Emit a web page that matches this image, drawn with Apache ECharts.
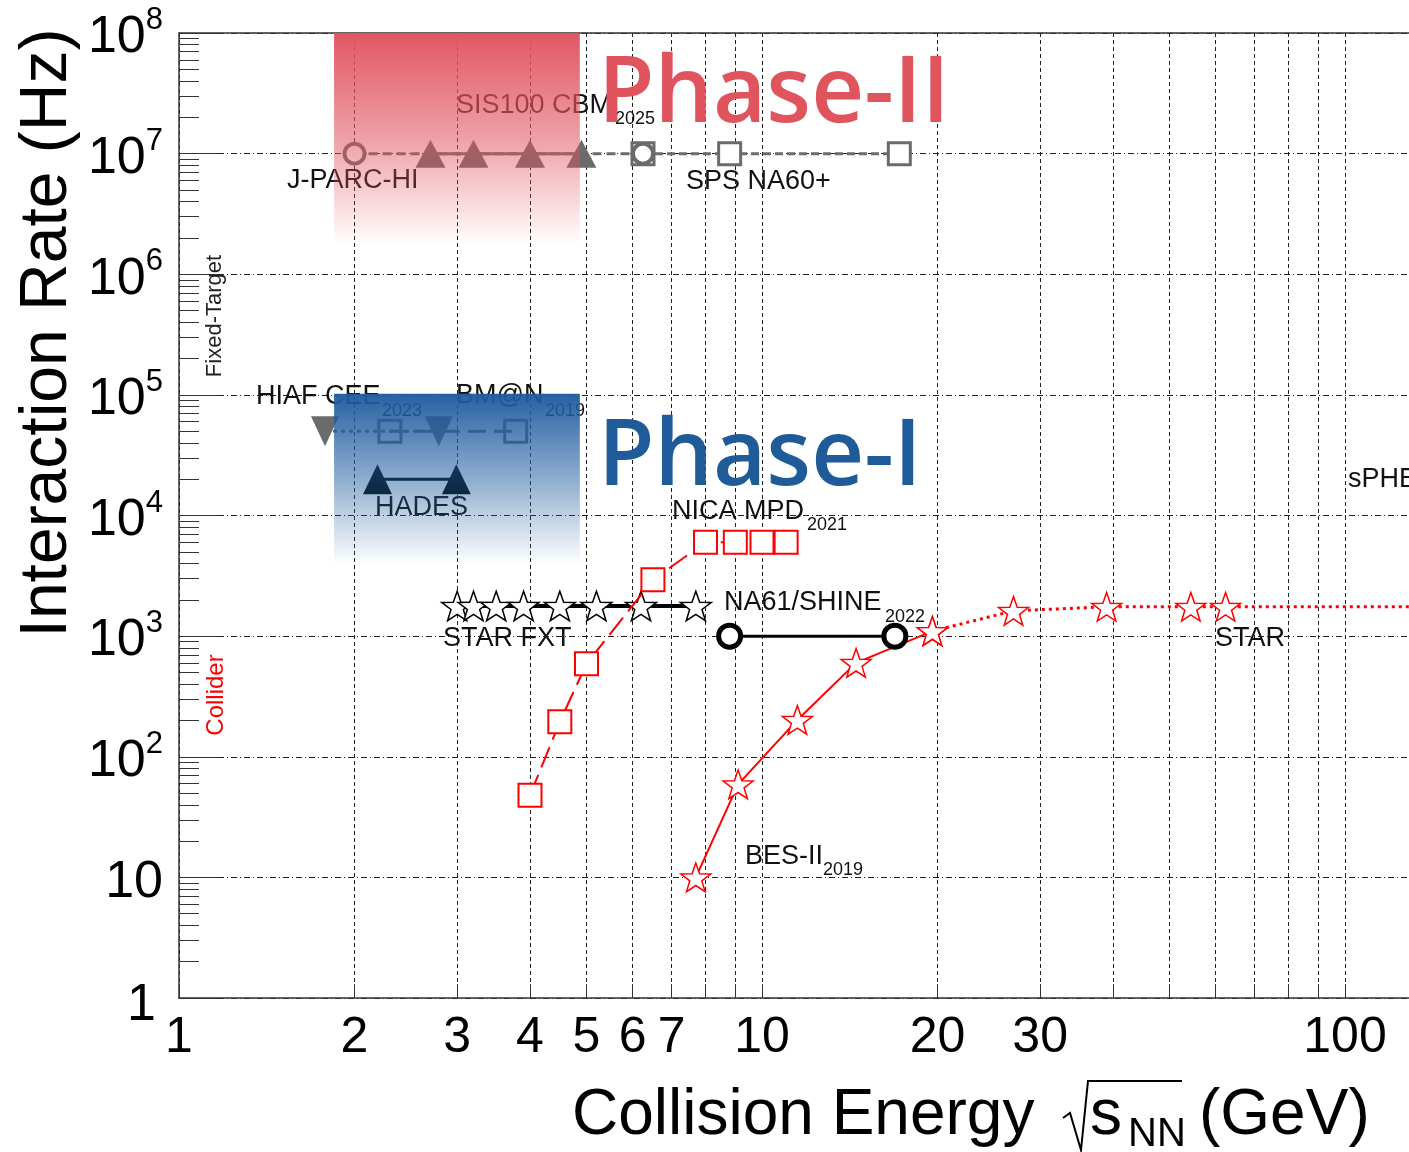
<!DOCTYPE html>
<html><head><meta charset="utf-8">
<script src="https://cdn.jsdelivr.net/npm/echarts@6/dist/echarts.min.js"></script>
<style>html,body{margin:0;padding:0;background:#fff}#c{width:1409px;height:1152px}</style>
</head><body><div id="c"></div>
<script>
// ---------- axis ticks / labels ----------
const xTickValues = [1,2,3,4,5,6,7,8,9,10,20,30,40,50,60,70,80,90,100];
const xLabelValues = [1,2,3,4,5,6,7,10,20,30,100];
const yDecades = [1,10,100,1e3,1e4,1e5,1e6,1e7,1e8];
const yMinorMultipliers = [2,3,4,5,6,7,8,9];

// ---------- series values (sqrt(s_NN) in GeV, rate in Hz) ----------
const jparcE = [2.0, 6.25],               jparcRate = [1e7, 1e7];
const sisE   = [2.7, 3.2, 4.0, 4.9],      sisRate   = [1e7, 1e7, 1e7, 1e7];
const na60E  = [6.25, 8.8, 17.2],         na60Rate  = [1e7, 1e7, 1e7];
const hiafE  = [1.78, 2.79],              hiafRate  = [5e4, 5e4];
const bmnE   = [2.3, 3.78],               bmnRate   = [5e4, 5e4];
const hadesE = [2.19, 2.99],              hadesRate = [2e4, 2e4];
const fxtE   = [3.0, 3.2, 3.5, 3.9, 4.5, 5.2, 6.2, 7.7];
const fxtRate= [1780, 1780, 1780, 1780, 1780, 1780, 1780, 1780];
const nicaE  = [4.0, 4.5, 5.0, 6.5, 8.0, 9.0, 10.0, 11.0];
const nicaRate=[48, 195, 590, 2930, 6000, 6000, 6000, 6000];
const na61E  = [8.8, 16.9],               na61Rate  = [1000, 1000];
const besE   = [7.7, 9.1, 11.5, 14.5, 19.6], besRate = [10, 59, 202, 600, 1100];
const starE  = [19.6, 27, 39, 54.4, 62.4, 200], starRate = [1100, 1620, 1750, 1750, 1750, 1750];

// phase regions (energy range, rate range)
const phaseIIE = [1.845, 4.87], phaseIIRate = [1.75e6, 1e8];
const phaseIE  = [1.845, 4.87], phaseIRate  = [3.9e3, 1.02e5];

const zip = (a, b) => a.map((v, i) => [v, b[i]]);
const yMinorTicks = [];
yDecades.slice(0, -1).forEach(d => yMinorMultipliers.forEach(m => yMinorTicks.push(d * m)));

const STAR = 'path://M0,-10L2.35,-3.24L9.51,-3.09L3.8,1.24L5.88,8.09L0,4.2L-5.88,8.09L-3.8,1.24L-9.51,-3.09L-2.35,-3.24Z';
const FONT = 'Liberation Sans, Arial, Helvetica, sans-serif';
const GREY = '#6b6b6b';

const chart = echarts.init(document.getElementById('c'), null, {renderer: 'canvas'});

function txt(text, x, y, size, opts) {
  opts = opts || {};
  return {
    type: 'text', x: x, y: y, z: opts.z || 1, silent: true, rotation: opts.rotation || 0,
    style: {text: text, fontSize: size, fontFamily: opts.family || FONT, fontWeight: opts.weight || 'normal',
      fill: opts.fill || '#111', align: opts.align || 'left', verticalAlign: 'middle'}
  };
}

const option = {
  backgroundColor: '#ffffff',
  animation: false,
  grid: {left: 179, top: 33, right: 0, bottom: 154, containLabel: false, outerBoundsMode: 'none'},
  xAxis: [{
    type: 'log', logBase: 10, min: 1, max: Math.pow(10, 1230 / 583),
    position: 'bottom',
    axisLine: {show: true, onZero: false, lineStyle: {color: '#333', width: 1.5}},
    axisTick: {show: true, inside: true, length: 14, customValues: xTickValues, lineStyle: {color: '#333', width: 1}},
    axisLabel: {show: true, customValues: xLabelValues, margin: 15, fontSize: 50, fontFamily: FONT, color: '#000',
      formatter: v => String(Math.round(v))},
    splitLine: {show: true, lineStyle: {color: '#222', width: 1, type: [4, 3]}},
    minorTick: {show: false}
  }, {
    type: 'log', logBase: 10, min: 1, max: Math.pow(10, 1230 / 583),
    position: 'top',
    axisLine: {show: true, onZero: false, lineStyle: {color: '#333', width: 1.5}},
    axisTick: {show: false}, axisLabel: {show: false}, splitLine: {show: false}
  }],
  yAxis: [{
    type: 'log', logBase: 10, min: 1, max: 1e8,
    position: 'left',
    axisLine: {show: true, onZero: false, lineStyle: {color: '#333', width: 1.5}},
    axisTick: {show: true, inside: true, length: 40, lineStyle: {color: '#333', width: 1.2}},
    axisLabel: {show: true, margin: 16, color: '#000', fontFamily: FONT,
      formatter: v => {
        const e = Math.round(Math.log10(v));
        if (e === 0) return '{one|1}';
        if (e === 1) return '{b|10}';
        return '{b|10}{e|' + e + '}';
      },
      rich: {
        b: {fontSize: 52, lineHeight: 64, fontFamily: FONT, color: '#000', padding: [10, 0, 0, 0]},
        e: {fontSize: 31, lineHeight: 30, verticalAlign: 'top', fontFamily: FONT, color: '#000', padding: [4, 0, 0, 0]},
        one: {fontSize: 52, lineHeight: 64, fontFamily: FONT, color: '#000', padding: [16, 7, 0, 0]}
      }
    },
    splitLine: {show: true, lineStyle: {color: '#222', width: 1, type: [6, 3, 1, 3]}}
  }, {
    type: 'log', logBase: 10, min: 1, max: 1e8,
    position: 'left',
    axisLine: {show: false},
    axisTick: {show: true, inside: true, length: 20, customValues: yMinorTicks, lineStyle: {color: '#333', width: 1}},
    axisLabel: {show: false}, splitLine: {show: false}
  }],
  graphic: [
    // axis titles
    txt('Interaction Rate (Hz)', 48, 333, 66, {rotation: Math.PI / 2, align: 'center', fill: '#000'}),
    txt('Collision Energy', 572, 1116, 64, {fill: '#000'}),
    {type: 'polyline', z: 1, silent: true, shape: {points: [[1063, 1118], [1070, 1113], [1081, 1150], [1088, 1081], [1182, 1081]]}, style: {stroke: '#000', lineWidth: 2, fill: null}},
    txt('s', 1090, 1116, 64, {fill: '#000'}),
    txt('NN', 1128, 1135, 40, {fill: '#000'}),
    txt('(GeV)', 1199, 1116, 64, {fill: '#000'}),
    // side labels
    txt('Fixed-Target', 215, 316, 22, {rotation: Math.PI / 2, align: 'center', fill: '#222'}),
    txt('Collider', 216, 695, 24, {rotation: Math.PI / 2, align: 'center', fill: '#ff0000'}),
    // experiment labels
    txt('SIS100 CBM', 456, 106, 27),
    txt('2025', 615, 119, 18),
    txt('J-PARC-HI', 287, 181, 27),
    txt('SPS NA60+', 686, 182, 27),
    txt('HIAF CEE', 256, 397, 27),
    txt('2023', 382, 411, 18),
    txt('BM@N', 456, 396, 27),
    txt('2019', 545, 411, 18),
    txt('HADES', 375, 508, 27),
    txt('NICA MPD', 672, 512, 27),
    txt('2021', 807, 525, 18),
    txt('STAR FXT', 443, 639, 27),
    txt('NA61/SHINE', 724, 603, 27),
    txt('2022', 885, 617, 18),
    txt('BES-II', 745, 857, 27),
    txt('2019', 823, 870, 18),
    txt('STAR', 1215, 639, 27),
    txt('sPHENIX', 1348, 480, 27),
    // phase titles
    txt('Phase-II', 598, 96, 92, {z: 50, weight: 600, family: 'Open Sans, Noto Sans, sans-serif', fill: '#E0545E'}),
    txt('Phase-I', 598, 459, 92, {z: 50, weight: 600, family: 'Open Sans, Noto Sans, sans-serif', fill: '#1F5B99'})
  ],
  series: [
    {name: 'SPS NA60+', type: 'line', data: zip(na60E, na60Rate), symbol: 'rect', symbolSize: 22,
      itemStyle: {color: '#fff', borderColor: GREY, borderWidth: 3}, lineStyle: {color: GREY, width: 3, type: [8, 4]}, z: 3},
    {name: 'J-PARC-HI', type: 'line', data: zip(jparcE, jparcRate), symbol: 'circle', symbolSize: 20,
      itemStyle: {color: '#fff', borderColor: GREY, borderWidth: 4}, lineStyle: {color: GREY, width: 3, type: [9, 5]}, z: 3},
    {name: 'SIS100 CBM', type: 'line', data: zip(sisE, sisRate), symbol: 'triangle', symbolSize: [30, 28],
      itemStyle: {color: GREY}, lineStyle: {color: GREY, width: 3}, z: 4},
    {name: 'HIAF CEE', type: 'line', data: zip(hiafE, hiafRate), symbol: 'triangle', symbolRotate: 180, symbolSize: [28, 30],
      itemStyle: {color: GREY}, lineStyle: {color: GREY, width: 3, type: [4, 4]}, z: 3},
    {name: 'BM@N', type: 'line', data: zip(bmnE, bmnRate), symbol: 'rect', symbolSize: 22,
      itemStyle: {color: 'rgba(255,255,255,0)', borderColor: GREY, borderWidth: 3}, lineStyle: {color: GREY, width: 3, type: [18, 8]}, z: 3},
    {name: 'HADES', type: 'line', data: zip(hadesE, hadesRate), symbol: 'triangle', symbolSize: [29, 30],
      itemStyle: {color: '#000'}, lineStyle: {color: '#000', width: 3}, z: 3},
    {name: 'STAR FXT', type: 'line', data: zip(fxtE, fxtRate), symbol: STAR, symbolKeepAspect: true, symbolSize: 31,
      itemStyle: {color: '#fff', borderColor: '#000', borderWidth: 1.5}, lineStyle: {color: '#000', width: 4}, z: 3},
    {name: 'NICA MPD', type: 'line', data: zip(nicaE, nicaRate), symbol: 'rect', symbolSize: 23,
      itemStyle: {color: '#fff', borderColor: '#ff0000', borderWidth: 2}, lineStyle: {color: '#ff0000', width: 2, type: [22, 8]}, z: 4},
    {name: 'NA61/SHINE', type: 'line', data: zip(na61E, na61Rate), symbol: 'circle', symbolSize: 22,
      itemStyle: {color: '#fff', borderColor: '#000', borderWidth: 5}, lineStyle: {color: '#000', width: 3}, z: 4},
    {name: 'STAR', type: 'line', data: zip(starE, starRate), symbol: STAR, symbolKeepAspect: true, symbolSize: 30,
      itemStyle: {color: '#fff', borderColor: '#ff0000', borderWidth: 1.5}, lineStyle: {color: '#ff0000', width: 3, type: [3, 4]}, z: 3},
    {name: 'BES-II', type: 'line', data: zip(besE, besRate), symbol: STAR, symbolKeepAspect: true, symbolSize: 30,
      itemStyle: {color: '#fff', borderColor: '#ff0000', borderWidth: 1.5}, lineStyle: {color: '#ff0000', width: 2}, z: 4},
    {name: 'phases', type: 'line', data: [], z: 10, silent: true,
      markArea: {silent: true, z: 10, label: {show: false},
        data: [
          [{coord: [phaseIIE[0], phaseIIRate[1]], itemStyle: {color: {type: 'linear', x: 0, y: 0, x2: 0, y2: 1,
              colorStops: [{offset: 0, color: 'rgba(224,82,94,0.97)'}, {offset: 0.5, color: 'rgba(224,82,94,0.55)'}, {offset: 1, color: 'rgba(224,82,94,0)'}]}}},
           {coord: [phaseIIE[1], phaseIIRate[0]]}],
          [{coord: [phaseIE[0], phaseIRate[1]], itemStyle: {color: {type: 'linear', x: 0, y: 0, x2: 0, y2: 1,
              colorStops: [{offset: 0, color: 'rgba(32,92,158,0.97)'}, {offset: 0.5, color: 'rgba(32,92,158,0.5)'}, {offset: 1, color: 'rgba(32,92,158,0)'}]}}},
           {coord: [phaseIE[1], phaseIRate[0]]}]
        ]}}
  ]
};
chart.setOption(option);
</script></body></html>
